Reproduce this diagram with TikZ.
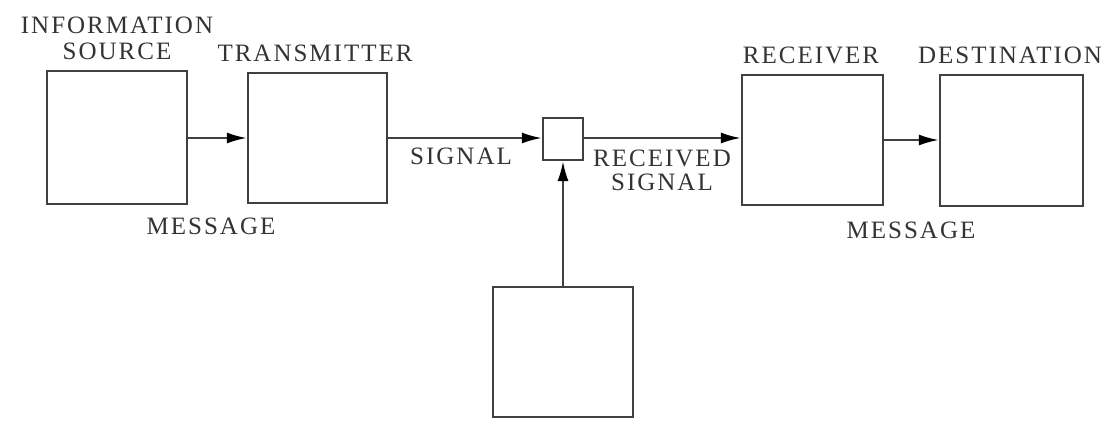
\documentclass[tikz,border=0pt]{standalone}
\usepackage{fontspec}
\setmainfont[LetterSpace=8]{Liberation Serif}
\usetikzlibrary{arrows.meta}
\begin{document}
\begin{tikzpicture}[x=1pt,y=-1pt,
  blk/.style={draw=black!75,line width=2.2pt,inner sep=0pt},
  lbl/.style={font=\fontsize{25}{26}\selectfont,text=black!80,inner sep=0pt,align=center},
  conn/.style={draw=black!75,line width=2.2pt,-{Latex[length=20pt,width=11pt,black]}}]
\useasboundingbox (0,0) rectangle (1113,424);
\node[blk,minimum width=140pt,minimum height=133pt] (src) at (117,137.5) {};
\node[blk,minimum width=139pt,minimum height=130pt] (tx) at (317.5,138) {};
\node[blk,minimum width=40pt,minimum height=42pt] (ch) at (563,139) {};
\node[blk,minimum width=141pt,minimum height=130pt] (rx) at (812.5,140) {};
\node[blk,minimum width=143pt,minimum height=131pt] (dst) at (1011.5,140.5) {};
\node[blk,minimum width=140pt,minimum height=130pt] (noise) at (563,352) {};
\draw[conn] (src.east |- 0,138) -- (tx.west |- 0,138);
\draw[conn] (tx.east |- 0,138) -- (ch.west |- 0,138);
\draw[conn] (ch.east |- 0,138) -- (rx.west |- 0,138);
\draw[conn] (rx.east |- 0,140) -- (dst.west |- 0,140);
\draw[conn] (noise.north) -- (ch.south);
\node[lbl] (l1) at (117,38) {INFORMATION\\[0pt]SOURCE};
\node[lbl] (l2) at (315,53) {TRANSMITTER};
\node[lbl] (l3) at (211,226) {MESSAGE};
\node[lbl] (l4) at (461,156) {SIGNAL};
\node[lbl] (l5) at (662,170) {RECEIVED\\[-2pt]SIGNAL};
\node[lbl] (l6) at (811,55) {RECEIVER};
\node[lbl] (l7) at (1010,55) {DESTINATION};
\node[lbl] (l8) at (911,230) {MESSAGE};
\end{tikzpicture}
\end{document}
